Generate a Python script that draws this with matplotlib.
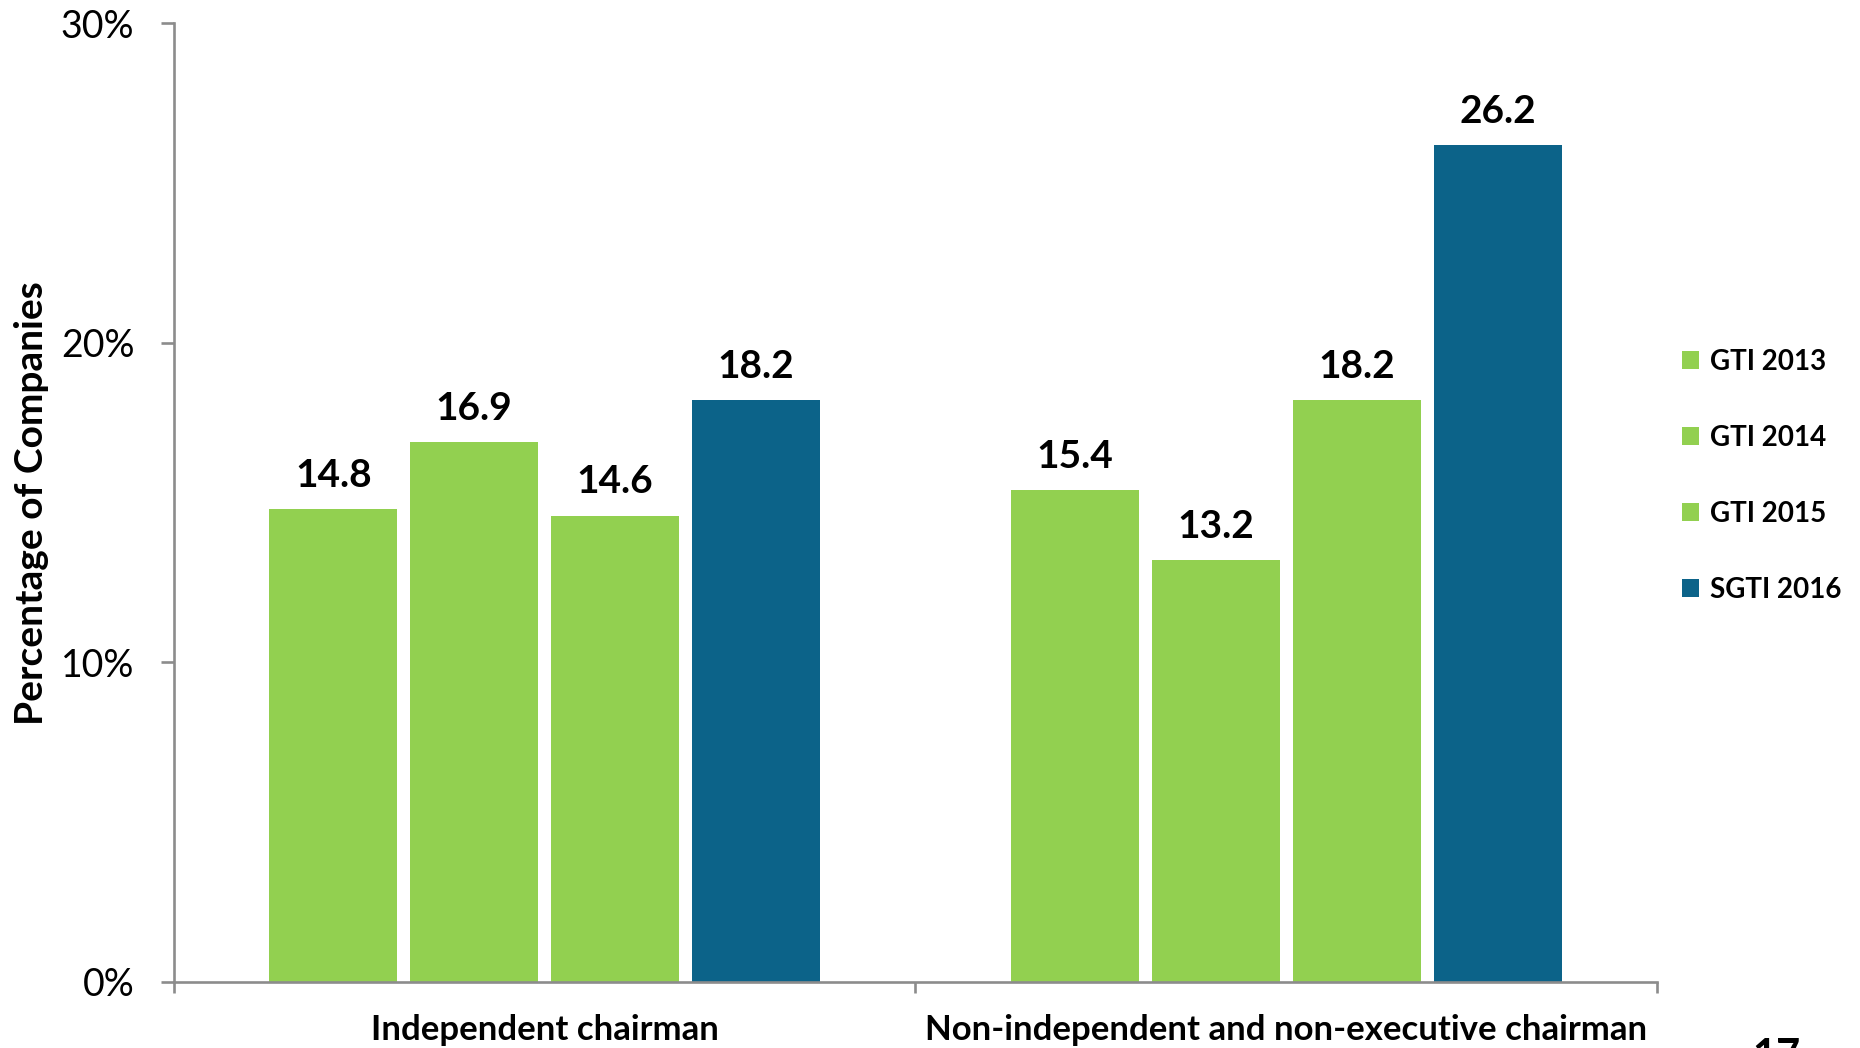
import matplotlib
matplotlib.use("Agg")
import matplotlib.pyplot as plt
import numpy as np

plt.rcParams["font.family"] = ["Lato", "DejaVu Sans"]

categories = ["Independent chairman", "Non-independent and non-executive chairman"]
series = ["GTI 2013", "GTI 2014", "GTI 2015", "SGTI 2016"]
values = [
    [14.8, 15.4],  # GTI 2013
    [16.9, 13.2],  # GTI 2014
    [14.6, 18.2],  # GTI 2015
    [18.2, 26.2],  # SGTI 2016
]
colors = ["#92D050", "#92D050", "#92D050", "#0C6389"]
yticks = [0, 10, 20, 30]

fig = plt.figure(figsize=(18.6, 10.48), dpi=100)
ax = fig.add_axes([0.0935, 0.063, 0.7974, 0.9146])

x = np.arange(len(categories))
step = 0.19
width = 0.1725
for i, (name, vals, col) in enumerate(zip(series, values, colors)):
    pos = x + (i - 1.5) * step
    bars = ax.bar(pos, vals, width=width, color=col, label=name, zorder=2)
    for b, v in zip(bars, vals):
        ax.annotate(f"{v:.1f}", (b.get_x() + b.get_width() / 2, v),
                    xytext=(0, 16), textcoords="offset points",
                    ha="center", va="baseline", fontsize=28, fontweight="bold")

ax.set_xlim(-0.5, 1.5)
ax.set_ylim(0, 30)

# axes styling
for s in ["top", "right"]:
    ax.spines[s].set_visible(False)
for s in ["left", "bottom"]:
    ax.spines[s].set_color("#8C8C8C")
    ax.spines[s].set_linewidth(1.9)

ax.set_yticks(yticks)
ax.set_yticklabels([f"{t}%" for t in yticks], fontsize=27)
ax.tick_params(axis="y", direction="out", length=9.5, width=1.9,
               color="#8C8C8C", pad=19)

# group boundaries as major ticks, category names on minor ticks
ax.set_xticks([-0.5, 0.5, 1.5])
ax.set_xticklabels([])
ax.tick_params(axis="x", which="major", direction="out", length=8,
               width=1.9, color="#8C8C8C")
ax.set_xticks(x, minor=True)
ax.set_xticklabels(categories, minor=True, fontsize=25, fontweight="bold")
ax.tick_params(axis="x", which="minor", length=0, pad=23)

ax.set_ylabel("Percentage of Companies", fontsize=28, fontweight="bold")
ax.yaxis.set_label_coords(-0.084, 0.50)

leg = ax.legend(loc="center left", bbox_to_anchor=(1.0, 0.528), frameon=False,
                prop={"size": 20, "weight": "bold"}, handlelength=0.6,
                handleheight=0.6, handletextpad=0.4, labelspacing=1.8)

# page number
fig.text(0.955, 1 - 1038 / 1048, "17", ha="center", va="top",
         fontsize=30, fontweight="bold")

fig.savefig("out.png", dpi=100)
